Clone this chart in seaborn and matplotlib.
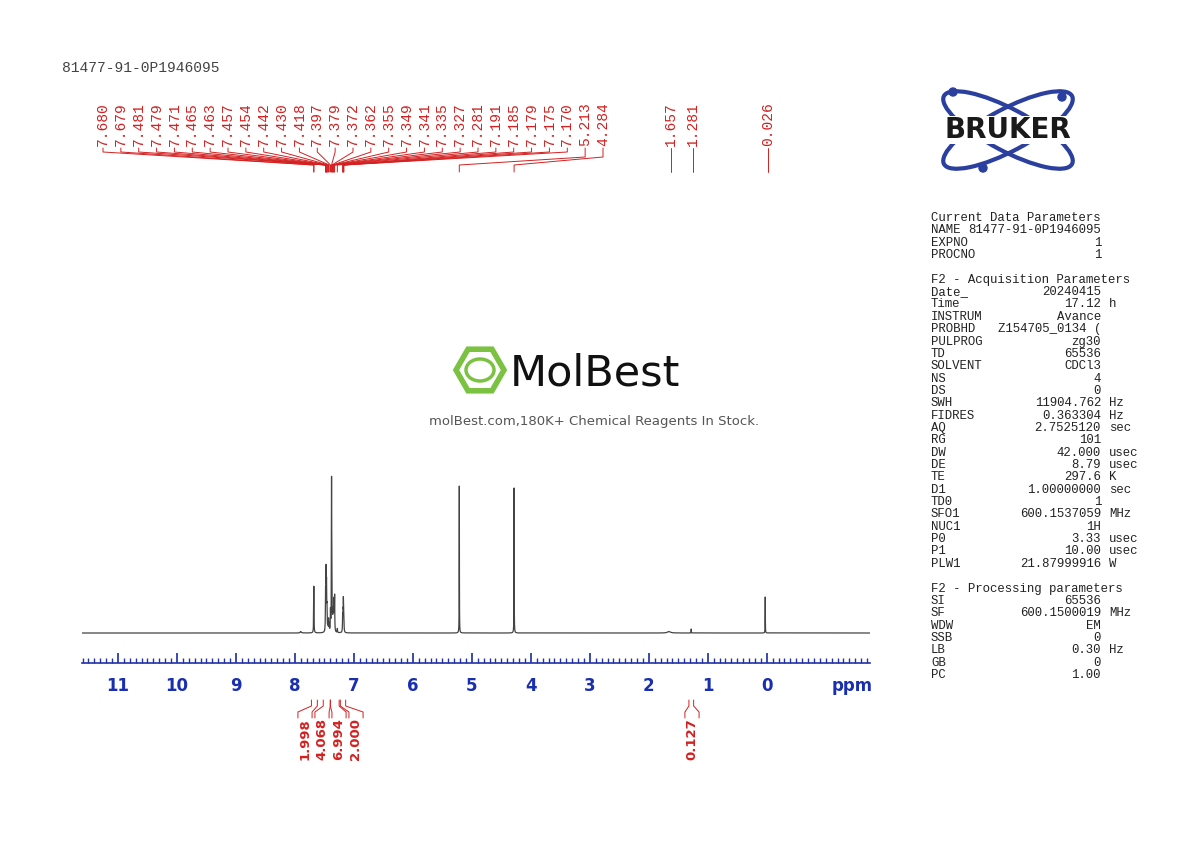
import numpy as np
import matplotlib
matplotlib.use("Agg")
import matplotlib.pyplot as plt
import seaborn as sns
from matplotlib.patches import Ellipse, RegularPolygon, Circle

sns.set_theme(style="white")
plt.rcParams['font.family'] = ['DejaVu Sans']

title = "81477-91-0P1946095"
peak_labels = [7.680, 7.679, 7.481, 7.479, 7.471, 7.465, 7.463, 7.457, 7.454, 7.442, 7.430,
               7.418, 7.397, 7.379, 7.372, 7.362, 7.355, 7.349, 7.341, 7.335, 7.327, 7.281,
               7.191, 7.185, 7.179, 7.175, 7.170, 5.213, 4.284]
far_labels = [1.657, 1.281, 0.026]
# peak positions (ppm) and heights (arbitrary, ~pixels)
peak_pos = [7.680, 7.679, 7.481, 7.479, 7.471, 7.465, 7.463, 7.457, 7.454, 7.442, 7.430,
            7.418, 7.397, 7.379, 7.372, 7.362, 7.355, 7.349, 7.341, 7.335, 7.327, 7.281,
            7.191, 7.185, 7.179, 7.175, 7.170, 5.213, 4.284, 1.657, 1.281, 0.026, 7.90]
peak_h = [24, 24, 22, 22, 55, 26, 20, 14, 12, 10, 12,
          8, 20, 150, 30, 14, 12, 16, 26, 20, 34, 4,
          14, 16, 26, 14, 12, 147, 145, 1.5, 4, 36, 1.5]
peak_w = [0.003]*27 + [0.0018, 0.0018, 0.03, 0.002, 0.0018, 0.01]
integrals = ["1.998", "4.068", "6.994", "2.000", "0.127"]
int_regions = [(7.72, 7.62), (7.52, 7.40), (7.40, 7.25), (7.23, 7.14), (1.32, 1.24)]

params1 = [("NAME", "81477-91-0P1946095", ""), ("EXPNO", "1", ""), ("PROCNO", "1", "")]
params2 = [("Date_", "20240415", ""), ("Time", "17.12", "h"), ("INSTRUM", "Avance", ""),
           ("PROBHD", "Z154705_0134 (", ""), ("PULPROG", "zg30", ""), ("TD", "65536", ""),
           ("SOLVENT", "CDCl3", ""), ("NS", "4", ""), ("DS", "0", ""), ("SWH", "11904.762", "Hz"),
           ("FIDRES", "0.363304", "Hz"), ("AQ", "2.7525120", "sec"), ("RG", "101", ""),
           ("DW", "42.000", "usec"), ("DE", "8.79", "usec"), ("TE", "297.6", "K"),
           ("D1", "1.00000000", "sec"), ("TD0", "1", ""), ("SFO1", "600.1537059", "MHz"),
           ("NUC1", "1H", ""), ("P0", "3.33", "usec"), ("P1", "10.00", "usec"),
           ("PLW1", "21.87999916", "W")]
params3 = [("SI", "65536", ""), ("SF", "600.1500019", "MHz"), ("WDW", "EM", ""), ("SSB", "0", ""),
           ("LB", "0.30", "Hz"), ("GB", "0", ""), ("PC", "1.00", "")]

W, H = 1190, 842
fig = plt.figure(figsize=(11.9, 8.42), dpi=100)
fig.patch.set_facecolor("white")
X0, X1 = 82, 870
ppm_l, ppm_r = 11.61, -1.75
def rect(x0, y0, x1, y1):
    return [x0 / W, 1 - y1 / H, (x1 - x0) / W, (y1 - y0) / H]
def px2ppm(x):
    return ppm_l + (x - X0) / (X1 - X0) * (ppm_r - ppm_l)

red = "#d42020"
mono = "Liberation Mono"

# spectrum
ax = fig.add_axes(rect(X0, 460, X1, 663))
x = np.linspace(ppm_r, ppm_l, 120000)
y = np.zeros_like(x)
for p, h, w in zip(peak_pos, peak_h, peak_w):
    y += h * w**2 / ((x - p)**2 + w**2)
sns.lineplot(x=x, y=y, ax=ax, color="#444444", lw=0.9, estimator=None, sort=False)
ax.set_xlim(ppm_l, ppm_r)
ax.set_ylim(-30, 173)
for s in ["top", "left", "right"]:
    ax.spines[s].set_visible(False)
ax.spines["bottom"].set_color("#2233aa")
ax.spines["bottom"].set_linewidth(1.2)
ax.set_yticks([])
ax.set_xticks(range(0, 12))
ax.set_xticks(np.arange(-1.7, 11.61, 0.1), minor=True)
ax.tick_params(axis="x", which="major", direction="in", length=7, color="#2233aa",
               labelcolor="#1a2fb0", labelsize=12, pad=10, bottom=True, top=False)
ax.tick_params(axis="x", which="minor", direction="in", length=3.5, color="#2233aa", bottom=True)
for lab in ax.get_xticklabels():
    lab.set_fontweight("bold")
ax.set_xlabel("")
ax.patch.set_alpha(0)
fig.text(852 / W, 1 - 686 / H, "ppm", color="#1a2fb0", fontsize=12, fontweight="bold",
         ha="center", va="center")

# peak labels
ta = fig.add_axes(rect(X0, 88, X1, 175))
ta.set_xlim(ppm_l, ppm_r)
ta.set_ylim(175, 88)
ta.axis("off")
for i, v in enumerate(peak_labels):
    lx = px2ppm(103 + i * (603 - 103) / (len(peak_labels) - 1))
    ta.text(lx, 146, f"{v:.3f}", rotation=90, ha="center", va="bottom", fontsize=10.5,
            family=mono, color=red)
    mid = 152 if v > 6 else 157
    ta.plot([lx, lx, v, v], [148, mid, 165, 172], color=red, lw=0.7)
for v, lxp in zip(far_labels, [671, 693, 768]):
    lx = px2ppm(lxp)
    ta.text(lx, 146, f"{v:.3f}", rotation=90, ha="center", va="bottom", fontsize=10.5,
            family=mono, color=red)
    ta.plot([lx, lx], [148, 172], color=red, lw=0.7)

# integrals
ia = fig.add_axes(rect(X0, 690, X1, 760))
ia.set_xlim(ppm_l, ppm_r)
ia.set_ylim(760, 690)
ia.axis("off")
ilx = [305, 322, 339, 356, 692]
for lab, (a, b), lxp in zip(integrals, int_regions, ilx):
    lx = px2ppm(lxp)
    ia.plot([a, a, lx + 0.12, lx + 0.12], [700, 706, 712, 718], color=red, lw=0.7)
    ia.plot([b, b, lx - 0.12, lx - 0.12], [700, 706, 712, 718], color=red, lw=0.7)
    ia.text(lx, 718, lab, rotation=90, ha="center", va="top", fontsize=9.5,
            fontweight="bold", color=red)

# title
fig.text(62 / W, 1 - 68 / H, title, family=mono, fontsize=10.5, color="#444444", va="center")

# parameters
def ptxt(ypx, s, xpx=931, ha="left"):
    fig.text(xpx / W, 1 - ypx / H, s, family=mono, fontsize=8.9, color="#222222",
             ha=ha, va="center")
yy = 218
dy = 12.35
ptxt(yy, "Current Data Parameters"); yy += dy
for n, v, u in params1:
    ptxt(yy, n); ptxt(yy, v, 1101, "right"); yy += dy
yy += dy
ptxt(yy, "F2 - Acquisition Parameters"); yy += dy
for n, v, u in params2:
    ptxt(yy, n); ptxt(yy, v, 1101, "right")
    if u:
        ptxt(yy, u, 1109)
    yy += dy
yy += dy
ptxt(yy, "F2 - Processing parameters"); yy += dy
for n, v, u in params3:
    ptxt(yy, n); ptxt(yy, v, 1101, "right")
    if u:
        ptxt(yy, u, 1109)
    yy += dy

# Bruker logo
la = fig.add_axes(rect(900, 80, 1110, 180))
la.set_xlim(900, 1110); la.set_ylim(180, 80); la.axis("off")
blue = "#2a3f9e"
la.add_patch(Ellipse((1008, 130), 145, 42, angle=28, fill=False, ec=blue, lw=3))
la.add_patch(Ellipse((1008, 130), 145, 42, angle=-28, fill=False, ec=blue, lw=3))
for cx, cy in [(953, 92), (1062, 97), (983, 168)]:
    la.add_patch(Circle((cx, cy), 4, color=blue))
la.text(1008, 130, "BRUKER", ha="center", va="center", fontsize=20, fontweight="black",
        color="#1a1a1a", fontstretch="expanded", bbox=dict(fc="white", ec="none", pad=0.3))

# MolBest watermark
wa = fig.add_axes(rect(440, 330, 760, 440))
wa.set_xlim(440, 760); wa.set_ylim(440, 330); wa.axis("off")
green = "#7cc242"
wa.add_patch(RegularPolygon((480, 370), 6, radius=24, orientation=np.pi / 2,
                            fill=False, ec=green, lw=4))
wa.add_patch(Ellipse((480, 370), 28, 22, fill=False, ec=green, lw=2.5))
wa.text(510, 373, "MolBest", fontsize=31, color="#111111", va="center", ha="left")
wa.text(594, 421, "molBest.com,180K+ Chemical Reagents In Stock.", fontsize=9.5,
        color="#555555", ha="center", va="center")

fig.savefig("out.png", dpi=100, facecolor="white")
